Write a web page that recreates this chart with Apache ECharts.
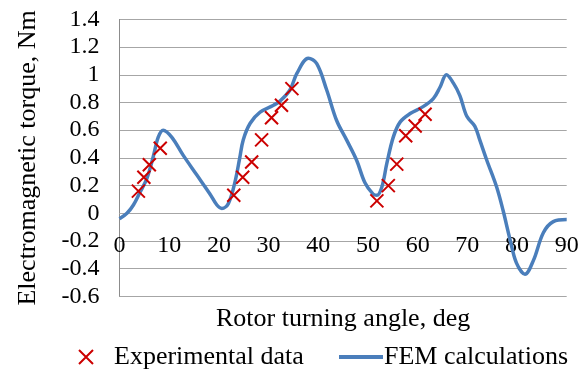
<!DOCTYPE html>
<html>
<head>
<meta charset="utf-8">
<script src="https://cdn.jsdelivr.net/npm/echarts@6.0.0/dist/echarts.min.js"></script>
<style>
  html, body { margin: 0; padding: 0; background: #fff; }
  #chart { width: 588px; height: 376px; }
</style>
</head>
<body>
<div id="chart"></div>
<script>
// --- data ---
const expAngle = [3.8, 4.9, 6.0, 8.2, 23.0, 24.8, 26.6, 28.6, 30.6, 32.6, 34.7, 51.8, 54.1, 55.8, 57.6, 59.5, 61.5]
const expTorque = [0.16, 0.26, 0.35, 0.47, 0.13, 0.26, 0.37, 0.53, 0.69, 0.78, 0.9, 0.09, 0.2, 0.355, 0.56, 0.63, 0.715]

const femAngle = [
  0, 1.5, 2.8, 4.1, 5.5, 6.8, 7.8, 8.8, 10.5, 12.8, 15.5, 18.2, 19.6, 20.6, 21.9,
  23.2, 24.2, 24.9, 26.3, 28.3, 31.0, 32.3, 34.3, 35.7, 38.0, 39.7, 41.7, 43.7, 45.7,
  47.7, 49.4, 51.0, 51.8, 52.8, 53.8, 55.1, 56.5, 58.5, 61.1, 63.2, 64.5, 65.8, 67.2,
  68.5, 69.9, 71.5, 72.5, 73.9, 75.9, 77.2, 78.6, 79.9, 81.6, 83.3, 85.3, 87.3, 90,
]
const femTorque = [
  -0.04, 0.0, 0.06, 0.15, 0.25, 0.41, 0.55, 0.6, 0.55, 0.42, 0.28, 0.14, 0.06, 0.035, 0.07,
  0.22, 0.4, 0.53, 0.65, 0.73, 0.78, 0.81, 0.89, 1.01, 1.12, 1.08, 0.89, 0.67, 0.53,
  0.385, 0.22, 0.14, 0.13, 0.19, 0.36, 0.55, 0.66, 0.72, 0.77, 0.83, 0.91, 1.0, 0.94,
  0.85, 0.7, 0.63, 0.53, 0.385, 0.19, 0.02, -0.19, -0.36, -0.44, -0.34, -0.14, -0.06, -0.045,
]

const FONT = "'Liberation Serif', 'Times New Roman', serif"
const CROSS = 'path://M0,0L10,10M10,0L0,10'

// grid box (px)
const GRID_TOP = 19.4
const GRID_BOTTOM = 79.6
const Y_MIN = -0.6
const Y_MAX = 1.4
// move the x axis up from the grid bottom to the zero line
const plotH = 376 - GRID_TOP - GRID_BOTTOM
const zeroOffset = -plotH * (0 - Y_MIN) / (Y_MAX - Y_MIN)

const chart = echarts.init(document.getElementById('chart'))

const options = {
  animation: false,
  grid: { left: 119.5, right: 21.3, top: GRID_TOP, bottom: GRID_BOTTOM, outerBoundsMode: 'none' },
  legend: [
    {
      data: [{ name: 'Experimental data', icon: CROSS }],
      left: 73,
      top: 339,
      itemWidth: 14,
      itemHeight: 14,
      textStyle: { fontFamily: FONT, fontSize: 26, color: '#000', padding: [0, 0, 0, 16] },
    },
    {
      data: [{ name: 'FEM calculations', icon: 'rect' }],
      left: 334,
      top: 339,
      itemWidth: 44,
      itemHeight: 4,
      textStyle: { fontFamily: FONT, fontSize: 26, color: '#000', padding: [0, 0, 0, -4] },
    },
  ],
  xAxis: {
    type: 'value',
    min: 0,
    max: 90,
    interval: 10,
    offset: zeroOffset,
    name: 'Rotor turning angle, deg',
    nameLocation: 'middle',
    nameGap: 93,
    nameTextStyle: { fontFamily: FONT, fontSize: 26, color: '#000' },
    axisLine: { onZero: false, lineStyle: { color: '#a6a6a6', width: 1 } },
    axisTick: { show: false },
    axisLabel: { fontFamily: FONT, fontSize: 24, color: '#000', margin: 20 },
    splitLine: { show: false },
  },
  yAxis: {
    type: 'value',
    min: Y_MIN,
    max: Y_MAX,
    interval: 0.2,
    name: 'Electromagnetic torque, Nm',
    nameLocation: 'middle',
    nameGap: 78,
    nameTextStyle: { fontFamily: FONT, fontSize: 26, color: '#000' },
    axisLine: { show: true, onZero: false, lineStyle: { color: '#8c8c8c', width: 1 } },
    axisTick: { show: false },
    axisLabel: {
      fontFamily: FONT, fontSize: 24, color: '#000', margin: 20,
      showMinLabel: true, showMaxLabel: true,
    },
    splitLine: { lineStyle: { color: '#a6a6a6', width: 1 } },
  },
  series: [
    {
      name: 'FEM calculations',
      type: 'line',
      data: femAngle.map((a, i) => [a, femTorque[i]]),
      smooth: 0.35,
      showSymbol: false,
      symbol: 'none',
      lineStyle: { color: '#4a7ebb', width: 3.5 },
      itemStyle: { color: '#4a7ebb' },
      z: 2,
    },
    {
      name: 'Experimental data',
      type: 'scatter',
      data: expAngle.map((a, i) => [a, expTorque[i]]),
      symbol: CROSS,
      symbolSize: 13,
      itemStyle: { color: 'rgba(0,0,0,0)', borderColor: '#cc0000', borderWidth: 2, opacity: 1 },
      z: 3,
    },
  ],
}

chart.setOption(options)
</script>
</body>
</html>
